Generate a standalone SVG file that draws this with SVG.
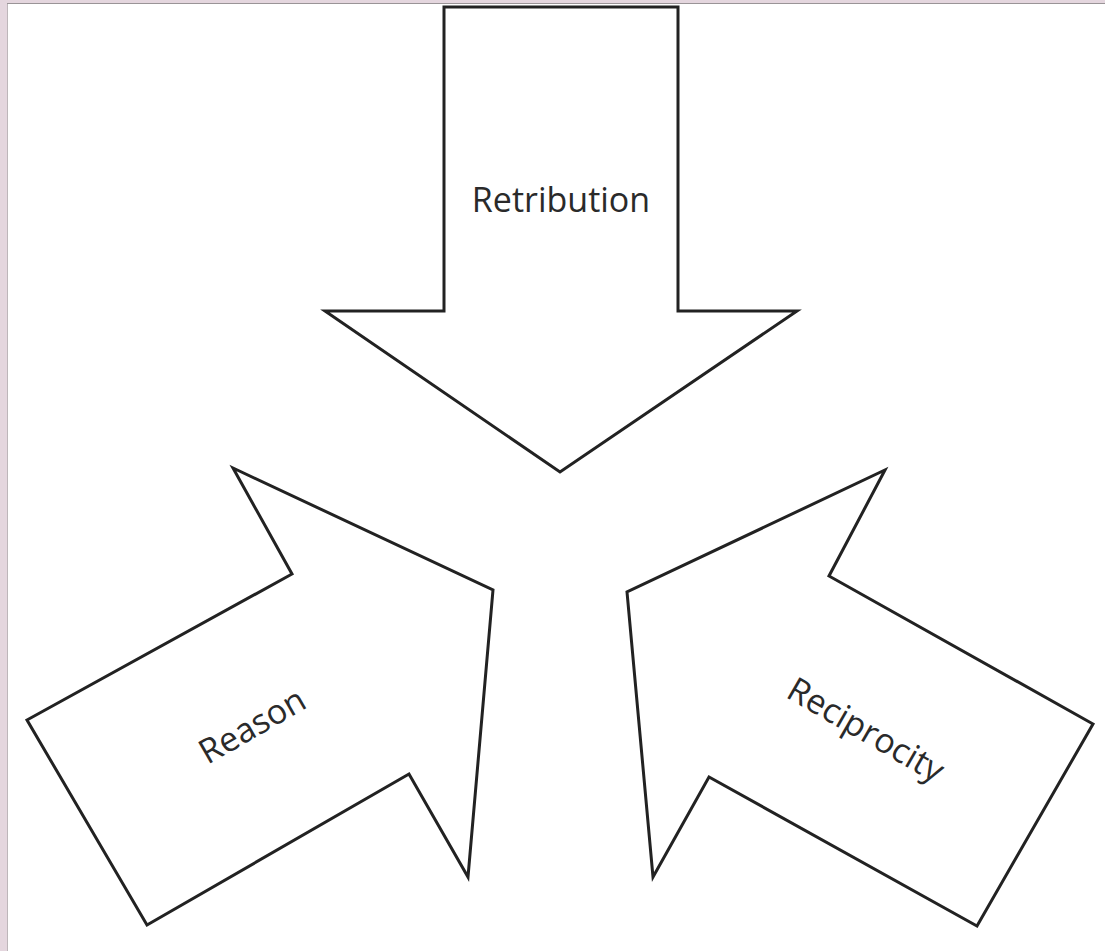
<svg xmlns="http://www.w3.org/2000/svg" width="1105" height="951" viewBox="0 0 1105 951">
  <style>
    .arrow { fill: #ffffff; stroke: #222222; stroke-width: 3; stroke-linejoin: miter; }
    .label { font-family: "Open Sans", "Liberation Sans", sans-serif; font-size: 34px; fill: #2a2a2a; text-anchor: middle; }
  </style>
  <!-- page background and frame edge -->
  <rect x="0" y="0" width="1105" height="951" fill="#ffffff"/>
  <rect x="0" y="0" width="7" height="951" fill="#e4d6de"/>
  <rect x="0" y="0" width="1105" height="3" fill="#e4d6de"/>
  <line x1="7.5" y1="3" x2="7.5" y2="951" stroke="#bdb6ba" stroke-width="1"/>
  <line x1="7" y1="3.5" x2="1105" y2="3.5" stroke="#9a9497" stroke-width="1"/>

  <g id="retribution">
    <polygon class="arrow" points="444,7 678,7 678,311 797,311 560,472 325,311 444,311"/>
    <text class="label" x="561" y="212">Retribution</text>
  </g>

  <g id="reason">
    <polygon class="arrow" points="233,468 292,574 27,720 147,925 409,774 468,877 493,590"/>
    <text class="label" x="0" y="0" transform="translate(258,736) rotate(-30)">Reason</text>
  </g>

  <g id="reciprocity">
    <polygon class="arrow" points="885,470 829,576 1093,724 977,926 709,777 653,877 627,592"/>
    <text class="label" x="0" y="0" transform="translate(860,740) rotate(30)">Reciprocity</text>
  </g>

  <g id="connectors"></g>
</svg>
